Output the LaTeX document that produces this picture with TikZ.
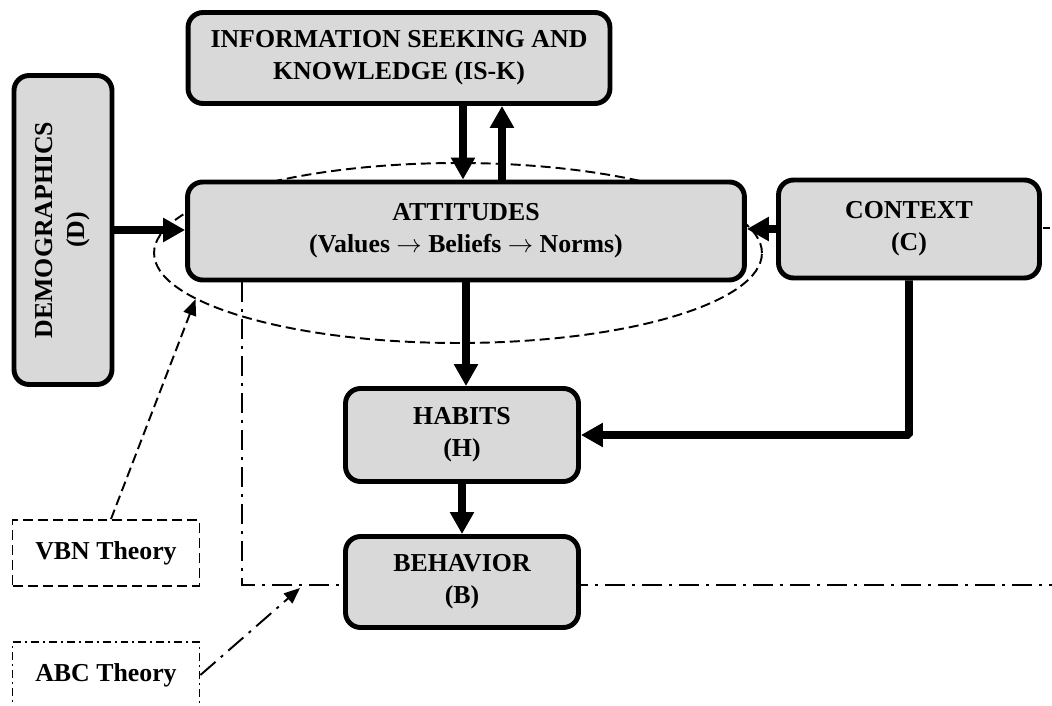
\documentclass[tikz,border=0pt]{standalone}
\usepackage{fontspec}
\setmainfont{Liberation Serif}
\usetikzlibrary{arrows.meta,shapes.geometric}

\tikzset{
  factor/.style={draw, line width=2.8pt, fill=black!15, rounded corners=0.3cm,
    align=center, inner sep=0pt, font=\fontsize{14.7}{18.1}\selectfont\bfseries},
  theory/.style={draw, line width=1.1pt, minimum width=3.74cm, minimum height=1.32cm,
    font=\fontsize{14.7}{18.1}\selectfont\bfseries},
  flow/.style={line width=4.5pt, -{Triangle[length=0.44cm,width=0.46cm]}},
  abcline/.style={line width=1.1pt, dash pattern=on 0.4cm off 0.14cm on 0.06cm off 0.14cm},
  vbnline/.style={line width=1.1pt, dash pattern=on 0.2cm off 0.1cm},
}

\begin{document}
\begin{tikzpicture}[x=0.02cm, y=-0.02cm]
\useasboundingbox (0,0) rectangle (1052,706);
% the VBN zone and the ABC border, behind the boxes
\node[ellipse, draw, vbnline, inner sep=0pt, minimum width=12.16cm, minimum height=3.6cm] (zone) at (458,253) {};
\coordinate (abcturn) at (242,585);
\coordinate (abcend) at (1052,585);
\coordinate (abctip) at (300,588);
\coordinate (stub) at (1043,228);
% factors
\node[factor, minimum width=8.44cm, minimum height=1.82cm] (isk) at (399,58) {INFORMATION SEEKING AND\\KNOWLEDGE (IS-K)};
\node[factor, minimum width=11.14cm, minimum height=1.96cm] (att) at (466,231) {ATTITUDES\\(Values $\rightarrow$ Beliefs $\rightarrow$ Norms)};
\draw[abcline] (att.south -| abcturn) -- (abcturn) -- (abcend);
\draw[line width=1.1pt] (stub) -- ++(7,0);
\node[factor, rotate=90, minimum width=6.18cm, minimum height=1.96cm] (dem) at (63,230) {DEMOGRAPHICS\\(D)};
\node[factor, minimum width=5.22cm, minimum height=1.96cm] (con) at (909,229) {CONTEXT\\(C)};
\node[factor, minimum width=4.66cm, minimum height=1.86cm] (hab) at (462,435) {HABITS\\(H)};
\node[factor, minimum width=4.66cm, minimum height=1.82cm] (beh) at (462,582) {BEHAVIOR\\(B)};
% theories
\node[theory, vbnline] (vbn) at (106,553) {VBN Theory};
\node[theory, line width=1.1pt, dash pattern=on 0.16cm off 0.08cm on 0.04cm off 0.08cm] (abc) at (106,675) {ABC Theory};
% links
\draw[flow] (dem.south) -- (dem.south -| att.west);
\draw[flow] ([xshift=1.28cm]isk.south) -- ([xshift=1.28cm]isk.south |- att.north);
\draw[flow] ([xshift=2.06cm]isk.south |- att.north) -- ([xshift=2.06cm]isk.south);
\draw[flow] (con.west) -- (con.west -| att.east);
\draw[flow] (att.south) -- (att.south |- hab.north);
\draw[flow, rounded corners=1pt] (con.south) |- (hab.east);
\draw[flow] (hab.south) -- (beh.north);
\draw[vbnline, -{Triangle[length=0.32cm,width=0.26cm]}] ([xshift=0.1cm]vbn.north) -- (zone.190);
\draw[abcline, -{Triangle[length=0.32cm,width=0.26cm]}] (abc.east) -- (abctip);
\end{tikzpicture}
\end{document}
